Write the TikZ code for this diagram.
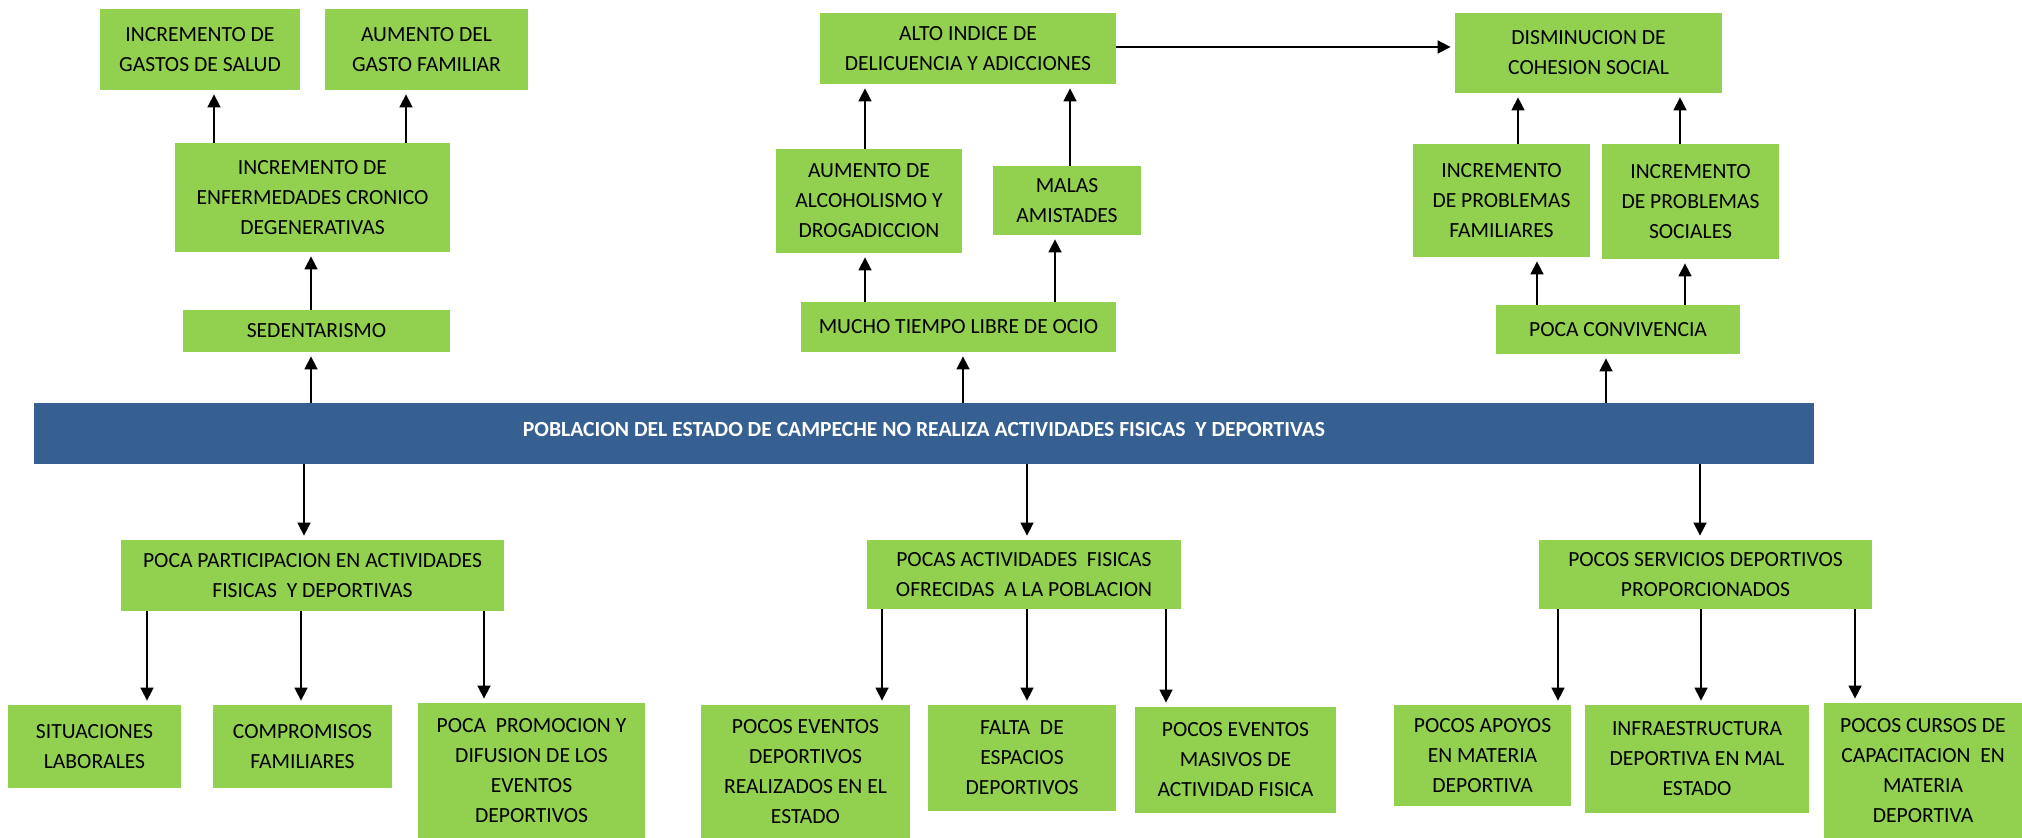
\documentclass[tikz,border=0pt]{standalone}
\usepackage{fontspec}
\setmainfont{Carlito}
\usetikzlibrary{arrows.meta}
\definecolor{leaf}{HTML}{92D050}
\definecolor{slate}{HTML}{366092}

\begin{document}
\begin{tikzpicture}[x=0.5pt,y=-0.5pt,
    gbox/.style={fill=leaf,inner sep=0pt,align=center,
                 font=\fontsize{10.8}{15}\selectfont},
    arr/.style={-{Triangle[length=6.5pt,width=6.5pt]},line width=0.8pt,shorten >=2pt}]
  \useasboundingbox (0,0) rectangle (2022,838);

  % effects, left branch
  \node[gbox,minimum width=100pt,minimum height=40.5pt] (gastos) at (200,49.5)
    {INCREMENTO DE\\GASTOS DE SALUD};
  \node[gbox,minimum width=101.5pt,minimum height=40.5pt] (gastofam) at (426.5,49.5)
    {AUMENTO DEL\\GASTO FAMILIAR};
  \node[gbox,minimum width=137.5pt,minimum height=54.5pt] (enf) at (312.5,197.5)
    {INCREMENTO DE\\ENFERMEDADES CRONICO\\DEGENERATIVAS};
  \node[gbox,minimum width=133.5pt,minimum height=21pt] (sed) at (316.5,331)
    {SEDENTARISMO};

  % effects, middle branch
  \node[gbox,minimum width=148pt,minimum height=35.5pt] (alto) at (968,48.5)
    {ALTO INDICE DE\\DELICUENCIA Y ADICCIONES};
  \node[gbox,minimum width=93pt,minimum height=52pt] (alcohol) at (869,201)
    {AUMENTO DE\\ALCOHOLISMO Y\\DROGADICCION};
  \node[gbox,minimum width=74pt,minimum height=34.5pt] (malas) at (1067,200.5)
    {MALAS\\AMISTADES};
  \node[gbox,minimum width=157.5pt,minimum height=25pt] (ocio) at (958.5,327)
    {MUCHO TIEMPO LIBRE DE OCIO};

  % effects, right branch
  \node[gbox,minimum width=133.5pt,minimum height=40pt] (cohesion) at (1588.5,53)
    {DISMINUCION DE\\COHESION SOCIAL};
  \node[gbox,minimum width=88.5pt,minimum height=56.5pt] (probfam) at (1501.5,200.5)
    {INCREMENTO\\DE PROBLEMAS\\FAMILIARES};
  \node[gbox,minimum width=88.5pt,minimum height=57.5pt] (probsoc) at (1690.5,201.5)
    {INCREMENTO\\DE PROBLEMAS\\SOCIALES};
  \node[gbox,minimum width=122pt,minimum height=24.5pt] (conviv) at (1618,329.5)
    {POCA CONVIVENCIA};

  % central problem
  \node[fill=slate,text=white,inner sep=0pt,minimum width=890pt,
        text height=17pt,text depth=13.5pt,font=\fontsize{10.8}{15}\selectfont\bfseries]
    (bar) at (924,433.5)
    {POBLACION DEL ESTADO DE CAMPECHE NO REALIZA ACTIVIDADES FISICAS~ Y DEPORTIVAS};

  % causes
  \node[gbox,minimum width=191.5pt,minimum height=35.5pt] (partic) at (312.5,575.5)
    {POCA PARTICIPACION EN ACTIVIDADES\\FISICAS~ Y DEPORTIVAS};
  \node[gbox,minimum width=86.5pt,minimum height=41.5pt] (situ) at (94.5,746.5)
    {SITUACIONES\\LABORALES};
  \node[gbox,minimum width=89.5pt,minimum height=41.5pt] (comp) at (302.5,746.5)
    {COMPROMISOS\\FAMILIARES};
  \node[gbox,minimum width=113.5pt,minimum height=67.5pt] (promo) at (531.5,770.5)
    {POCA~ PROMOCION Y\\DIFUSION DE LOS\\EVENTOS\\DEPORTIVOS};

  \node[gbox,minimum width=157pt,minimum height=34.5pt] (activ) at (1024,574.5)
    {POCAS ACTIVIDADES~ FISICAS\\OFRECIDAS~ A LA POBLACION};
  \node[gbox,minimum width=104.5pt,minimum height=66.5pt] (eventos) at (805.5,771.5)
    {POCOS EVENTOS\\DEPORTIVOS\\REALIZADOS EN EL\\ESTADO};
  \node[gbox,minimum width=94pt,minimum height=53pt] (falta) at (1022,758)
    {FALTA~ DE\\ESPACIOS\\DEPORTIVOS};
  \node[gbox,minimum width=100.5pt,minimum height=53pt] (masivos) at (1235.5,760)
    {POCOS EVENTOS\\MASIVOS DE\\ACTIVIDAD FISICA};

  \node[gbox,minimum width=166.5pt,minimum height=34.5pt] (serv) at (1705.5,574.5)
    {POCOS SERVICIOS DEPORTIVOS\\PROPORCIONADOS};
  \node[gbox,minimum width=88.5pt,minimum height=50.5pt] (apoyos) at (1482.5,755.5)
    {POCOS APOYOS\\EN MATERIA\\DEPORTIVA};
  \node[gbox,minimum width=112pt,minimum height=54pt] (infra) at (1697,759)
    {INFRAESTRUCTURA\\DEPORTIVA EN MAL\\ESTADO};
  \node[gbox,minimum width=99pt,minimum height=67.5pt] (cursos) at (1923,770.5)
    {POCOS CURSOS DE\\CAPACITACION~ EN\\MATERIA\\DEPORTIVA};

  % upward arrows
  \draw[arr] (enf.north -| 214,0) -- (gastos.south -| 214,0);
  \draw[arr] (enf.north -| 406,0) -- (gastofam.south -| 406,0);
  \draw[arr] (sed.north -| 311,0) -- (enf.south -| 311,0);
  \draw[arr] (bar.north -| 311,0) -- (sed.south -| 311,0);
  \draw[arr] (alcohol.north -| 865,0) -- (alto.south -| 865,0);
  \draw[arr] (malas.north -| 1070,0) -- (alto.south -| 1070,0);
  \draw[arr] (ocio.north -| 865,0) -- (alcohol.south -| 865,0);
  \draw[arr] (ocio.north -| 1055,0) -- (malas.south -| 1055,0);
  \draw[arr] (bar.north -| 963,0) -- (ocio.south -| 963,0);
  \draw[arr] (probfam.north -| 1518,0) -- (cohesion.south -| 1518,0);
  \draw[arr] (probsoc.north -| 1680,0) -- (cohesion.south -| 1680,0);
  \draw[arr] (conviv.north -| 1537,0) -- (probfam.south -| 1537,0);
  \draw[arr] (conviv.north -| 1685,0) -- (probsoc.south -| 1685,0);
  \draw[arr] (bar.north -| 1606,0) -- (conviv.south -| 1606,0);
  \draw[arr] (alto.east |- 0,47) -- (cohesion.west |- 0,47);

  % downward arrows
  \draw[arr] (bar.south -| 304,0) -- (partic.north -| 304,0);
  \draw[arr] (bar.south -| 1027,0) -- (activ.north -| 1027,0);
  \draw[arr] (bar.south -| 1700,0) -- (serv.north -| 1700,0);
  \draw[arr] (partic.south -| 147,0) -- (situ.north -| 147,0);
  \draw[arr] (partic.south -| 301,0) -- (comp.north -| 301,0);
  \draw[arr] (partic.south -| 484,0) -- (promo.north -| 484,0);
  \draw[arr] (activ.south -| 882,0) -- (eventos.north -| 882,0);
  \draw[arr] (activ.south -| 1027,0) -- (falta.north -| 1027,0);
  \draw[arr] (activ.south -| 1166,0) -- (masivos.north -| 1166,0);
  \draw[arr] (serv.south -| 1558,0) -- (apoyos.north -| 1558,0);
  \draw[arr] (serv.south -| 1701,0) -- (infra.north -| 1701,0);
  \draw[arr] (serv.south -| 1855,0) -- (cursos.north -| 1855,0);
\end{tikzpicture}
\end{document}
